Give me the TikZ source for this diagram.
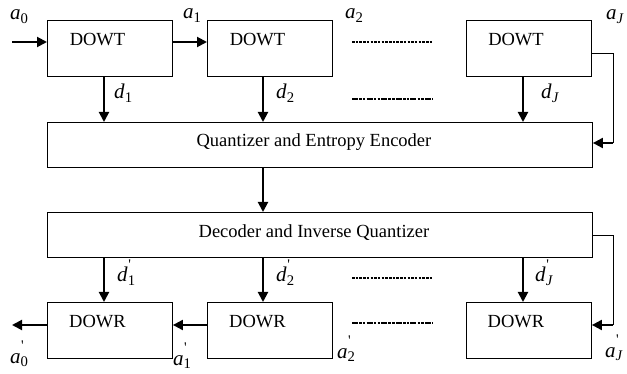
\documentclass[tikz,border=0pt]{standalone}
\usepackage{fontspec}
\setmainfont{Liberation Serif}
\usetikzlibrary{arrows.meta,calc}
\newcommand\symb[2]{\textit{#1}\textsubscript{#2}}
\newcommand\symbp[2]{\textit{#1}\rlap{\raisebox{0.55ex}{\textsuperscript{\kern0.5pt\textquotesingle}}}\textsubscript{#2}}
\tikzset{
  blk/.style={draw, line width=0.9pt, rectangle, inner sep=0pt, anchor=north west,
    minimum width=125pt, minimum height=56pt},
  wide/.style={draw, line width=0.9pt, rectangle, inner sep=0pt, anchor=north west,
    minimum width=545pt, minimum height=45pt},
  txt/.style={inner sep=0pt, font=\fontsize{18.5}{22}\selectfont},
  lab/.style={inner sep=0pt, anchor=base west, font=\fontsize{21}{25}\selectfont},
  arr/.style={line width=2pt, -{Triangle[length=10pt,width=10pt]}},
  fb/.style={line width=0.9pt},
  dotsA/.style={line width=2.6pt, dash pattern=on 2.5pt off 1.2pt},
  dotsB/.style={line width=2.6pt, dash pattern=on 6pt off 1.2pt on 2.5pt off 1.2pt on 2.5pt off 1.2pt}
}
\begin{document}
\begin{tikzpicture}[x=1pt,y=-1pt]
\useasboundingbox (0,0) rectangle (627,374);
% top row
\node[blk] (b1) at (47,20) {};
\node[blk] (b2) at (207,20) {};
\node[blk] (bJ) at (466,20) {};
\node[txt] (t1) at ([xshift=50.5pt,yshift=-20pt]b1.north west) {DOWT};
\node[txt] (t2) at ([xshift=50.5pt,yshift=-20pt]b2.north west) {DOWT};
\node[txt] (tJ) at ([xshift=50pt,yshift=-20pt]bJ.north west) {DOWT};
% wide boxes
\node[wide] (q) at (47,122) {};
\node[wide] (dq) at (47,212) {};
\node[txt] (qt) at ([xshift=-6pt,yshift=3pt]q.center) {Quantizer and Entropy Encoder};
\node[txt] (dt) at ([xshift=-6pt,yshift=2pt]dq.center) {Decoder and Inverse Quantizer};
% bottom row
\node[blk] (r1) at (47,302) {};
\node[blk] (r2) at (207,302) {};
\node[blk] (rJ) at (466,302) {};
\node[txt] (u1) at ([xshift=50.5pt,yshift=-20pt]r1.north west) {DOWR};
\node[txt] (u2) at ([xshift=50.5pt,yshift=-20pt]r2.north west) {DOWR};
\node[txt] (uJ) at ([xshift=50pt,yshift=-20pt]rJ.north west) {DOWR};
% coordinates
\coordinate (in) at (12,42);
\coordinate (out) at (12,325);
\coordinate (c1) at (104,0);
\coordinate (c2) at (263,0);
\coordinate (cJ) at (523,0);
\coordinate (fb1) at (613,53);
\coordinate (fb2) at (613,143);
\coordinate (fb3) at (613,235);
\coordinate (fb4) at (613,325);
% top arrows
\draw[arr] (in) -- (in -| b1.west);
\draw[arr] (b1.east |- in) -- (b2.west |- in);
\draw[arr] (c1 |- b1.south) -- (c1 |- q.north);
\draw[arr] (c2 |- b2.south) -- (c2 |- q.north);
\draw[arr] (cJ |- bJ.south) -- (cJ |- q.north);
\draw[fb] (bJ.east |- fb1) -- (fb1) -- (fb2);
\draw[arr] (fb2) -- (q.east |- fb2);
% middle
\draw[arr] (c2 |- q.south) -- (c2 |- dq.north);
% bottom arrows
\draw[arr] (c1 |- dq.south) -- (c1 |- r1.north);
\draw[arr] (c2 |- dq.south) -- (c2 |- r2.north);
\draw[arr] (cJ |- dq.south) -- (cJ |- rJ.north);
\draw[fb] (dq.east |- fb3) -- (fb3) -- (fb4);
\draw[arr] (fb4) -- (rJ.east |- fb4);
\draw[arr] (r2.west |- out) -- (r1.east |- out);
\draw[arr] (r1.west |- out) -- (out);
% dotted lines
\draw[dotsA] (352,42) -- (433,42);
\draw[dotsB] (352,99) -- (433,99);
\draw[dotsA] (352,278) -- (433,278);
\draw[dotsB] (352,323) -- (433,323);
% labels
\node[lab] (la0) at (10,20) {\symb{a}{0}};
\node[lab] (la1) at (183,19) {\symb{a}{1}};
\node[lab] (la2) at (345,19) {\symb{a}{2}};
\node[lab] (laJ) at (606,20) {\symb{a}{\textit{J}}};
\node[lab] (ld1) at (114,99) {\symb{d}{1}};
\node[lab] (ld2) at (276,99) {\symb{d}{2}};
\node[lab] (ldJ) at (541,99) {\symb{d}{\textit{J}}};
\node[lab] (ld1p) at (117,282) {\symbp{d}{1}};
\node[lab] (ld2p) at (276,282) {\symbp{d}{2}};
\node[lab] (ldJp) at (535,282) {\symbp{d}{\textit{J}}};
\node[lab] (la0p) at (10,363) {\symbp{a}{0}};
\node[lab] (la1p) at (173,365) {\symbp{a}{1}};
\node[lab] (la2p) at (337,358) {\symbp{a}{2}};
\node[lab] (laJp) at (605,357) {\symbp{a}{\textit{J}}};
\end{tikzpicture}
\end{document}
